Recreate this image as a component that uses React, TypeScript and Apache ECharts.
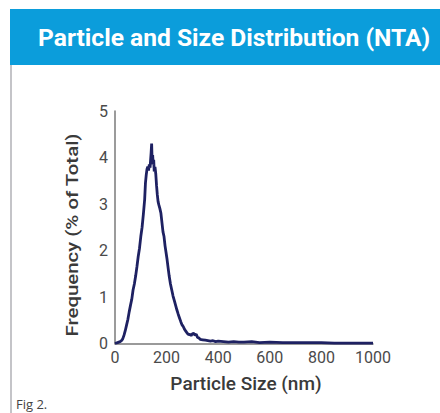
import React, { useEffect, useRef } from "react";
import * as echarts from "echarts";

const titleText = "Particle and Size Distribution (NTA)";
const xAxisTitle = "Particle Size (nm)";
const yAxisTitle = "Frequency (% of Total)";
const figLabel = "Fig 2.";

const sizesNm = [
  0, 5, 10, 15, 20, 25, 30, 35, 40, 45, 50, 55, 60, 65, 70, 75, 80, 85, 90, 95,
  100, 105, 110, 115, 118, 121, 124, 127, 130, 133, 136, 138, 140, 142, 144, 146,
  148, 150, 152, 155, 158, 161, 164, 167, 170, 174, 178, 182, 186, 190, 194, 198,
  202, 206, 210, 215, 220, 225, 230, 235, 240, 245, 250, 255, 260, 265, 270, 275,
  280, 285, 290, 295, 300, 305, 310, 315, 320, 325, 330, 340, 350, 360, 370, 380,
  390, 400, 420, 440, 460, 480, 500, 530, 560, 600, 650, 700, 750, 800, 850, 900,
  950, 1000,
];
const frequencyPct = [
  0, 0.01, 0.02, 0.03, 0.04, 0.06, 0.1, 0.18, 0.28, 0.4, 0.52, 0.68, 0.82, 0.95, 1.15, 1.28, 1.45, 1.65, 1.87, 2.05,
  2.3, 2.5, 2.78, 3.1, 3.45, 3.62, 3.75, 3.8, 3.72, 3.85, 3.78, 3.95, 4.1, 4.3, 3.9, 4.05,
  3.85, 3.95, 3.7, 3.8, 3.65, 3.4, 3.2, 3.05, 2.98, 2.9, 2.8, 2.6, 2.4, 2.3, 2.1, 1.95,
  1.8, 1.62, 1.45, 1.28, 1.15, 1.02, 0.92, 0.82, 0.72, 0.63, 0.55, 0.47, 0.4, 0.36, 0.3, 0.26,
  0.22, 0.19, 0.2, 0.17, 0.21, 0.22, 0.18, 0.2, 0.13, 0.12, 0.09, 0.08, 0.07, 0.06, 0.05, 0.06,
  0.04, 0.05, 0.04, 0.03, 0.04, 0.03, 0.03, 0.04, 0.02, 0.03, 0.02, 0.02, 0.02, 0.02, 0.01, 0.01,
  0.01, 0.01,
];

export default function App() {
  const ref = useRef<HTMLDivElement>(null);
  useEffect(() => {
    if (!ref.current) return;
    const chart = echarts.init(ref.current, null, { renderer: "svg" });
    const data = sizesNm.map((s, i) => [s, frequencyPct[i]]);
    chart.setOption({
      animation: false,
      backgroundColor: "#ffffff",
      grid: { left: 115, right: 67, top: 111, bottom: 69.5, containLabel: false },
      graphic: [
        { type: "rect", shape: { x: 10, y: 9, width: 430, height: 56 }, style: { fill: "#0b9ddb" } },
        { type: "rect", shape: { x: 10, y: 65, width: 2, height: 348 }, style: { fill: "#c4c4c8" } },
        {
          type: "text",
          x: 38,
          y: 37.5,
          style: {
            text: titleText,
            fill: "#ffffff",
            font: "bold 24.6px Roboto",
            textVerticalAlign: "middle",
          },
        },
        {
          type: "text",
          x: 246,
          y: 383,
          style: {
            text: xAxisTitle,
            fill: "#3a3a3a",
            font: "500 19px Roboto",
            textAlign: "center",
            textVerticalAlign: "middle",
          },
        },
        {
          type: "text",
          x: 73,
          y: 235,
          rotation: Math.PI / 2,
          scaleX: 1.2,
          style: {
            text: yAxisTitle,
            fill: "#3a3a3a",
            font: "500 17px Roboto",
            textAlign: "center",
            textVerticalAlign: "middle",
          },
        },
        {
          type: "text",
          x: 16,
          y: 404,
          style: {
            text: figLabel,
            fill: "#444444",
            font: "13px 'Open Sans'",
            textVerticalAlign: "middle",
          },
        },
      ],
      xAxis: {
        type: "value",
        min: 0,
        max: 1000,
        interval: 200,
        axisLine: { show: true, lineStyle: { color: "#7a7a7a", width: 1.5 } },
        axisTick: { show: false },
        splitLine: { show: false },
        axisLabel: {
          fontFamily: "Roboto",
          fontSize: 16,
          color: "#4a4a4a",
          margin: 6,
          formatter: (v: number) => String(v),
        },
      },
      yAxis: {
        type: "value",
        min: 0,
        max: 5,
        interval: 1,
        axisLine: { show: true, lineStyle: { color: "#7a7a7a", width: 1.5 } },
        axisTick: { show: false },
        splitLine: { show: false },
        axisLabel: { fontFamily: "Roboto", fontSize: 16, color: "#4a4a4a", margin: 7 },
      },
      series: [
        {
          type: "line",
          data,
          showSymbol: false,
          smooth: false,
          lineStyle: { color: "#1e2162", width: 2.8 },
        },
      ],
    });
    return () => chart.dispose();
  }, []);
  return (
    <div
      ref={ref}
      style={{ position: "fixed", left: 0, top: 0, width: 440, height: 413 }}
    />
  );
}
